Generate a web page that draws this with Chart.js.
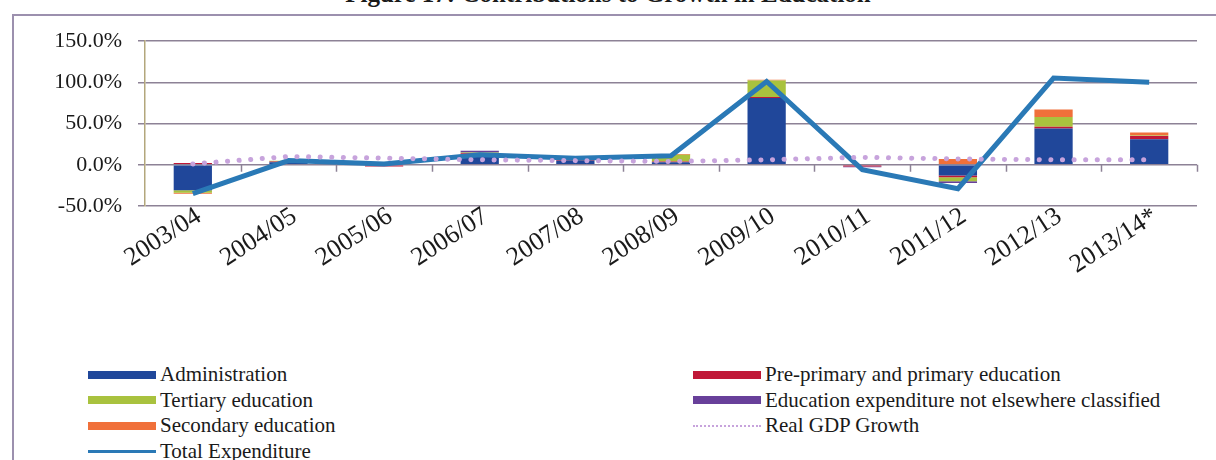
<!DOCTYPE html>
<html>
<head>
<meta charset="utf-8">
<script src="https://cdn.jsdelivr.net/npm/chart.js@4/dist/chart.umd.min.js"></script>
<style>
  html, body { margin: 0; padding: 0; background: #fff; }
  body { width: 1216px; height: 460px; position: relative; overflow: hidden; font-family: 'Liberation Serif', serif; }
  .title { position: absolute; left: 0; width: 1216px; top: -20px; text-align: center; font-weight: bold; font-size: 25px; color: #1a1a1a; }
  .frame { position: absolute; left: 12px; top: 14px; width: 1220px; height: 460px; border: 2px solid #9c90ae; box-sizing: border-box; }
  #chart { position: absolute; left: 0; top: 0; }
  .legend { position: absolute; left: 88px; top: 362px; display: grid; grid-template-columns: 605px 480px; grid-template-rows: repeat(4, 25.5px); grid-auto-flow: column; }
  .legend-item { display: flex; align-items: center; font-size: 21px; color: #1a1a1a; white-space: nowrap; }
  .legend-mark { width: 68px; margin-right: 4px; flex: none; }
</style>
</head>
<body>
<div class="title">Figure 17: Contributions to Growth in Education</div>
<div class="frame"></div>
<canvas id="chart" width="1216" height="300"></canvas>
<div class="legend" id="legend"></div>
<script>
// Fiscal years on the category axis
const years = ['2003/04', '2004/05', '2005/06', '2006/07', '2007/08', '2008/09',
  '2009/10', '2010/11', '2011/12', '2012/13', '2013/14*'];

// Contribution of each function to growth (percentage points)
const administration = [-31, 3, -1, 12, 5, 3, 81, -1, -13, 44, 31];
const prePrimary = [2, 1, -1, 2, 1, 1, 1, -1, -2, 2, 4];
const tertiary = [-3, 1, 0, 1, 1, 8, 20, 0, -5, 12, 0.5];
const notClassified = [0, 0, 0, 2, 0, 0, 0, -1, -2, 0, 0];
const secondary = [-1, 0, 0, 0, 0, 1, 1, 0, 7, 9, 3.5];

// Growth of total education spending and of real GDP (%)
const totalExpenditure = [-35, 5, 1, 12, 8, 11, 101, -6, -29, 105, 100];
const realGdpGrowth = [1, 10, 8, 6, 5, 4, 6, 9, 7, 6, 6];

// Value axis ticks
const yTicks = [-50, 0, 50, 100, 150];

const gridColor = '#8d8296';
const axisFont = { family: 'Liberation Serif', size: 22 };

function barSet(label, data, color) {
  return {
    type: 'bar', label, data, backgroundColor: color, stack: 'edu', order: 2,
    barPercentage: 0.4, categoryPercentage: 1, legendKind: 'bar',
  };
}

// Small downward tick marks on the zero line between categories
const zeroTicks = {
  id: 'zeroTicks',
  afterDatasetsDraw(chart) {
    const { ctx, scales: { x, y } } = chart;
    const y0 = y.getPixelForValue(0);
    const half = (x.getPixelForValue(1) - x.getPixelForValue(0)) / 2;
    ctx.save();
    ctx.strokeStyle = gridColor;
    ctx.lineWidth = 1.5;
    for (let i = 0; i < years.length; i += 1) {
      const px = Math.round(x.getPixelForValue(i) + half) + 0.5;
      ctx.beginPath();
      ctx.moveTo(px, y0);
      ctx.lineTo(px, y0 + 7);
      ctx.stroke();
    }
    ctx.restore();
  },
};

const chart = new Chart(document.getElementById('chart').getContext('2d'), {
  data: {
    labels: years,
    datasets: [
      barSet('Administration', administration, '#20479a'),
      barSet('Pre-primary and primary education', prePrimary, '#c01838'),
      barSet('Tertiary education', tertiary, '#a9c23e'),
      barSet('Education expenditure not elsewhere classified', notClassified, '#68409a'),
      barSet('Secondary education', secondary, '#f0703a'),
      {
        type: 'line', label: 'Real GDP Growth', data: realGdpGrowth, order: 0, stack: 'gdp',
        borderColor: '#c7a3dc', borderWidth: 5, borderDash: [0.1, 11.5], borderCapStyle: 'round',
        pointRadius: 0, fill: false, tension: 0, legendKind: 'dots',
      },
      {
        type: 'line', label: 'Total Expenditure', data: totalExpenditure, order: 1, stack: 'total',
        borderColor: '#2a79b6', borderWidth: 5, borderJoinStyle: 'miter',
        pointRadius: 0, fill: false, tension: 0, legendKind: 'line',
      },
    ],
  },
  options: {
    responsive: false,
    animation: false,
    layout: { padding: { top: 41, right: 19, left: 0, bottom: 0 } },
    plugins: { legend: { display: false }, tooltip: { enabled: false } },
    scales: {
      x: {
        stacked: true,
        grid: { display: false, drawTicks: false },
        border: { display: false },
        ticks: {
          font: { family: 'Liberation Serif', size: 26 }, color: '#1a1a1a', minRotation: 33, maxRotation: 33,
          labelOffset: 6, padding: -5, autoSkip: false,
        },
        afterFit(scale) { scale.height = 94; },
      },
      y: {
        stacked: true,
        min: -50,
        max: 150,
        afterBuildTicks(scale) { scale.ticks = yTicks.map((value) => ({ value })); },
        grid: { color: gridColor, lineWidth: 1.5, tickLength: 7 },
        border: { color: '#b3a77c', width: 1.5 },
        ticks: {
          font: axisFont, color: '#1a1a1a', padding: 16,
          callback: (v) => `${v.toFixed(1)}%`,
        },
        afterFit(scale) { scale.width = 145; },
      },
    },
  },
  plugins: [zeroTicks],
});

// Legend laid out in two columns, filled top to bottom
const legendOrder = ['Administration', 'Tertiary education', 'Secondary education', 'Total Expenditure',
  'Pre-primary and primary education', 'Education expenditure not elsewhere classified', 'Real GDP Growth'];
const legend = document.getElementById('legend');
legendOrder.forEach((name) => {
  const ds = chart.data.datasets.find((d) => d.label === name);
  const item = document.createElement('div');
  item.className = 'legend-item';
  const mark = document.createElement('span');
  mark.className = 'legend-mark';
  if (ds.legendKind === 'bar') {
    mark.style.height = '8px';
    mark.style.background = ds.backgroundColor;
  } else if (ds.legendKind === 'line') {
    mark.style.height = '3px';
    mark.style.background = ds.borderColor;
  } else {
    mark.style.height = '0';
    mark.style.borderTop = `2px dotted ${ds.borderColor}`;
  }
  item.appendChild(mark);
  item.appendChild(document.createTextNode(ds.label));
  legend.appendChild(item);
});
</script>
</body>
</html>
